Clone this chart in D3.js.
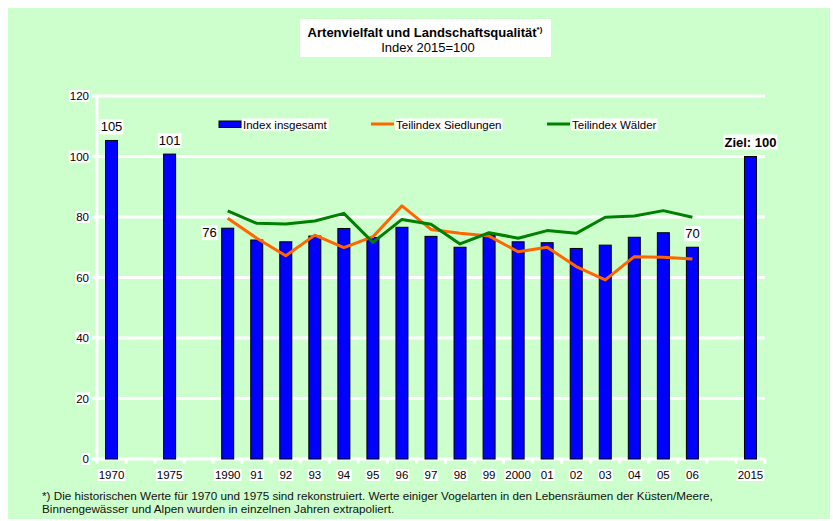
<!DOCTYPE html>
<html>
<head>
<meta charset="utf-8">
<script src="https://cdn.jsdelivr.net/npm/d3@7"></script>
<style>
  html, body { margin: 0; padding: 0; background: #ffffff; }
  svg { display: block; font-family: "Liberation Sans", Arial, sans-serif; }
</style>
</head>
<body>
<svg id="chart" width="833" height="521"></svg>
<script>
// ---- data ----
const slots = ["1970","gap1","1975","gap2","1990","91","92","93","94","95","96","97","98","99","2000","01","02","03","04","05","06","gap3","2015"];
const categories = ["1970","1975","1990","91","92","93","94","95","96","97","98","99","2000","01","02","03","04","05","06","2015"];
const indexTotal = [105.3, 100.8, 76.3, 72.4, 71.8, 73.7, 76.2, 73.2, 76.6, 73.6, 70.0, 74.2, 71.8, 71.5, 69.6, 70.7, 73.3, 74.8, 70.0, 100];
const lineYears = ["1990","91","92","93","94","95","96","97","98","99","2000","01","02","03","04","05","06"];
const siedlungen = [79.6, 73.0, 67.2, 74.0, 69.9, 73.5, 83.7, 75.9, 74.6, 73.7, 68.5, 70.0, 63.6, 59.2, 66.9, 66.7, 66.1];
const waelder = [82.0, 77.9, 77.7, 78.7, 81.2, 71.6, 79.2, 77.6, 71.1, 74.8, 73.0, 75.5, 74.6, 79.9, 80.3, 82.1, 79.9];
const yTicks = [0, 20, 40, 60, 80, 100, 120];
const labelledBars = ["1970", "1975", "1990", "06"];
const seriesNames = ["Index insgesamt", "Teilindex Siedlungen", "Teilindex Wälder"];
const titleText = "Artenvielfalt und Landschaftsqualität";
const subtitleText = "Index 2015=100";
const footnote = [
  "*) Die historischen Werte für 1970 und 1975 sind rekonstruiert. Werte einiger Vogelarten in den Lebensräumen der Küsten/Meere,",
  "Binnengewässer und Alpen wurden in einzelnen Jahren extrapoliert."
];
const goalLabel = "Ziel: 100";

// ---- layout ----
const svg = d3.select("#chart");
const plotLeft = 97, plotRight = 765, plotTop = 96, plotBottom = 459;
const colors = { bar: "#0000ff", sied: "#ff6600", wald: "#008000", bg: "#ccffcc" };
const smallFont = 11.5;

svg.append("rect").attr("x", 8).attr("y", 8).attr("width", 822).attr("height", 511).attr("fill", colors.bg);

const x = d3.scaleBand().domain(slots).range([plotLeft, plotRight]).paddingInner(0).paddingOuter(0);
const y = d3.scaleLinear().domain([0, 120]).range([plotBottom, plotTop]);

// helper: text with white box
function boxedText(g, tx, ty, str, opts = {}) {
  const t = g.append("text").attr("x", tx).attr("y", ty)
    .attr("text-anchor", opts.anchor || "middle")
    .attr("font-size", opts.size || smallFont)
    .attr("font-weight", opts.weight || "normal")
    .attr("fill", "#000").text(str);
  const b = t.node().getBBox();
  g.insert("rect", () => t.node())
    .attr("x", b.x - 1).attr("y", b.y).attr("width", b.width + 2).attr("height", b.height)
    .attr("fill", "#fff");
  return t;
}

// gridlines
const grid = svg.append("g");
grid.selectAll("line").data(yTicks).join("line")
  .attr("x1", plotLeft - 5).attr("x2", plotRight)
  .attr("y1", d => y(d)).attr("y2", d => y(d))
  .attr("stroke", "#fff").attr("stroke-width", 3);

// y axis line
svg.append("line").attr("x1", plotLeft).attr("x2", plotLeft).attr("y1", y(120) - 1.5).attr("y2", y(0) + 1.5)
  .attr("stroke", "#fff").attr("stroke-width", 3);

// x ticks at slot boundaries
const bounds = slots.map(s => x(s)).concat([plotRight]);
svg.append("g").selectAll("line").data(bounds).join("line")
  .attr("x1", d => d).attr("x2", d => d).attr("y1", y(0)).attr("y2", y(0) + 5)
  .attr("stroke", "#fff").attr("stroke-width", 3);

// y labels
const yl = svg.append("g");
yTicks.forEach(t => boxedText(yl, 89, y(t) + 4, String(t), { anchor: "end" }));

// x labels
const xl = svg.append("g");
slots.forEach(s => {
  if (!s.startsWith("gap")) boxedText(xl, x(s) + x.bandwidth() / 2, 479, s);
});

// bars
const bw = 12;
svg.append("g").selectAll("rect").data(categories).join("rect")
  .attr("x", d => x(d) + x.bandwidth() / 2 - bw / 2)
  .attr("width", bw)
  .attr("y", (d, i) => y(indexTotal[i]))
  .attr("height", (d, i) => y(0) - y(indexTotal[i]))
  .attr("fill", colors.bar).attr("stroke", "#000").attr("stroke-width", 1);

// lines
const lineGen = vals => d3.line()
  .x((d, i) => x(lineYears[i]) + x.bandwidth() / 2)
  .y((d, i) => y(vals[i]))(vals);
svg.append("path").attr("d", lineGen(siedlungen)).attr("fill", "none")
  .attr("stroke", colors.sied).attr("stroke-width", 3).attr("stroke-linejoin", "round");
svg.append("path").attr("d", lineGen(waelder)).attr("fill", "none")
  .attr("stroke", colors.wald).attr("stroke-width", 3).attr("stroke-linejoin", "round");

// bar value labels
const vl = svg.append("g");
labelledBars.forEach(c => {
  const i = categories.indexOf(c);
  const v = indexTotal[i];
  const cx = x(c) + x.bandwidth() / 2;
  if (c === "1990") {
    boxedText(vl, cx - 11, y(v) + 9, String(Math.round(v)), { anchor: "end", size: 13 });
  } else {
    boxedText(vl, cx, y(v) - 9, String(Math.round(v)), { size: 13 });
  }
});
boxedText(vl, x("2015") + x.bandwidth() / 2, y(100) - 10, goalLabel, { size: 13, weight: "bold" });

// legend
const lg = svg.append("g");
lg.append("rect").attr("x", 219).attr("y", 121).attr("width", 22).attr("height", 6.5)
  .attr("fill", colors.bar).attr("stroke", "#000").attr("stroke-width", 1);
boxedText(lg, 243, 128.5, seriesNames[0], { anchor: "start" });
lg.append("line").attr("x1", 371).attr("x2", 394).attr("y1", 124).attr("y2", 124)
  .attr("stroke", colors.sied).attr("stroke-width", 3);
boxedText(lg, 396, 128.5, seriesNames[1], { anchor: "start" });
lg.append("line").attr("x1", 547).attr("x2", 570).attr("y1", 124).attr("y2", 124)
  .attr("stroke", colors.wald).attr("stroke-width", 3);
boxedText(lg, 572, 128.5, seriesNames[2], { anchor: "start" });

// title
svg.append("rect").attr("x", 300).attr("y", 19).attr("width", 251).attr("height", 38).attr("fill", "#fff");
const tt = svg.append("text").attr("x", 425).attr("y", 37).attr("text-anchor", "middle")
  .attr("font-size", 13).attr("font-weight", "bold").attr("fill", "#000");
tt.append("tspan").text(titleText);
tt.append("tspan").attr("font-size", 8).attr("dy", -5).text("*)");
svg.append("text").attr("x", 428).attr("y", 52).attr("text-anchor", "middle")
  .attr("font-size", 13).attr("fill", "#000").text(subtitleText);

// footnote
svg.append("g").selectAll("text").data(footnote).join("text")
  .attr("x", 42).attr("y", (d, i) => 500 + i * 13)
  .attr("font-size", 11.7).attr("fill", "#111").text(d => d);
</script>
</body>
</html>
